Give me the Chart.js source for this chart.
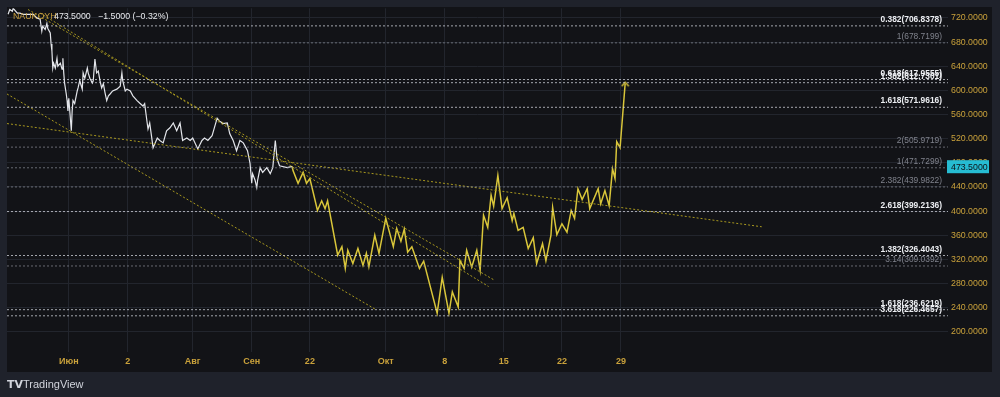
<!DOCTYPE html>
<html><head><meta charset="utf-8">
<script src="https://cdn.jsdelivr.net/npm/chart.js@4"></script>
<style>html,body{margin:0;padding:0;background:#1f222b;overflow:hidden}canvas{display:block}</style>
</head><body>
<canvas id="c" width="1000" height="397"></canvas>
<script>
// ---- data ----
const tickPos = [7.5, 14.5, 22.2, 29.2, 36.1, 45.1, 52.1, 59.1, 66.0, 73.0];
const tickLabels = ['Июн', '2', 'Авг', 'Сен', '22', 'Окт', '8', '15', '22', '29'];
const yTicks = [200, 240, 280, 320, 360, 400, 440, 480, 520, 560, 600, 640, 680, 720];

const whiteX = [0.3,0.5,0.8,0.9,1.4,1.7,2.1,2.5,3.3,3.7,4.1,4.3,4.4,4.7,4.9,5.0,5.3,5.4,5.5,5.6,5.7,5.9,6.1,6.2,6.5,6.7,6.8,6.9,7.0,7.2,7.3,7.4,7.5,7.8,7.9,8.0,8.2,8.5,8.6,8.8,9.1,9.2,9.4,9.7,9.8,10.0,10.3,10.4,10.6,10.8,11.0,11.2,11.4,11.6,11.8,12.0,12.2,12.4,12.7,13.2,13.6,13.8,13.9,14.2,14.4,14.8,15.1,15.6,15.9,16.3,16.5,16.8,16.9,17.1,17.5,18.0,18.3,18.7,19.1,19.5,19.9,20.3,20.7,21.0,21.5,21.9,22.2,22.8,23.3,23.6,24.0,24.5,25.1,25.4,25.8,26.3,26.6,27.0,27.4,27.8,28.2,28.7,29.0,29.2,29.3,29.6,29.8,29.9,30.2,30.5,31.0,31.4,31.7,32.0,32.2,32.5,33.4,34.0];
const whiteY = [726,734,731,736,728,728,726,726,726,720,718,698,706,701,711,703,695,677,665,637,645,637,653,640,645,635,653,629,612,594,583,566,587,533,566,583,578,599,604,616,602,629,620,637,629,620,612,616,652,629,632,616,604,611,596,583,591,594,599,602,607,629,616,599,602,599,591,583,579,574,578,546,536,546,505,521,517,513,533,538,546,533,546,517,521,517,521,503,517,521,517,525,554,549,545,546,528,517,500,517,513,500,479,446,462,451,439,451,472,464,472,462,472,517,487,475,472,474];

const yellowX = [34.0,34.1,34.7,35.3,35.7,36.1,37.0,37.5,37.9,38.2,39.4,39.9,40.3,40.6,41.2,41.8,42.4,42.8,43.1,43.8,44.3,45.1,46.0,46.4,46.9,47.3,47.7,48.2,49.1,49.6,51.2,51.8,52.6,53.0,53.7,53.9,54.4,54.7,55.3,55.9,56.3,56.7,57.2,57.6,57.9,58.4,58.9,59.5,60.1,60.3,60.8,61.4,62.0,62.6,63.0,63.7,64.1,64.7,64.9,65.4,66.0,66.6,67.1,67.5,67.9,68.4,69.0,69.3,70.3,70.6,71.1,71.6,72.0,72.3,72.5,72.9,73.5];
const yellowY = [474,467,446,464,446,454,401,417,404,417,327,341,305,335,313,338,310,330,308,360,330,388,341,371,350,370,332,341,305,317,231,290,231,266,241,318,305,335,307,335,302,393,373,426,408,459,404,422,384,396,368,373,338,356,313,346,318,360,406,361,379,365,401,388,437,419,437,404,437,412,434,409,470,454,515,505,611];

// trend lines: [x1, y1, x2, y2]
const trendA = [2.66, 734, 58.05, 285];
const trendB = [4.1, 728, 57.3, 275];
const trendC = [0.17, 545, 89.7, 374];
const trendD = [0.17, 594, 43.9, 237];

const fibRatios = ['0.382', '1', '0.618', '1.382', '1.618', '2', '1', '2.382', '2.618', '1.382', '3.14', '1.618', '3.618'];
const fibValues = [706.8378, 678.7199, 617.9555, 612.7301, 571.9616, 505.9719, 471.7299, 439.9822, 399.2136, 326.4043, 309.0392, 236.6219, 226.4657];
const fibBright = [true, false, true, true, true, false, false, false, true, true, false, true, true];

const ticker = 'NAUKOYH';
const lastPrice = 473.5;
const change = -1.5;
const changePct = -0.32;

// ---- chart ----
const X_MIN = 0.17, X_MAX = 111.8, Y_MIN = 166.5, Y_MAX = 736;
const YELLOW = '#d9c63a', TREND = '#a8981f';

function arrowImg() {
  const c = document.createElement('canvas'); c.width = 9; c.height = 9;
  const g = c.getContext('2d');
  g.strokeStyle = YELLOW; g.lineWidth = 1.4;
  g.beginPath(); g.moveTo(1, 7); g.lineTo(4.5, 3); g.lineTo(8, 7); g.stroke();
  return c;
}
const arrow = arrowImg();

const pts = (xs, ys) => xs.map((x, i) => ({x, y: ys[i]}));
const seg = t => [{x: t[0], y: t[1]}, {x: t[2], y: t[3]}];

const datasets = [];
fibValues.forEach((v, i) => datasets.push({
  data: [{x: X_MIN, y: v}, {x: X_MAX, y: v}],
  borderColor: fibBright[i] ? 'rgba(215,218,225,0.75)' : 'rgba(140,143,152,0.7)',
  borderWidth: 1, borderDash: [2, 2], pointRadius: 0
}));
[trendA, trendB, trendC, trendD].forEach(t => datasets.push({
  data: seg(t), borderColor: TREND, borderWidth: 1, borderDash: [2, 2], pointRadius: 0
}));
datasets.push({
  data: pts(yellowX, yellowY), borderColor: YELLOW, borderWidth: 1.5,
  pointRadius: yellowX.map((_, i) => i === yellowX.length - 1 ? 4 : 0),
  pointStyle: arrow, tension: 0
});
datasets.push({
  data: pts(whiteX, whiteY), borderColor: '#e3e5ea', borderWidth: 1.2, pointRadius: 0, tension: 0
});

const deco = {
  id: 'deco',
  beforeDraw(ch) {
    const g = ch.ctx;
    g.save();
    g.fillStyle = '#1f222b'; g.fillRect(0, 0, 1000, 397);
    g.fillStyle = '#121317'; g.fillRect(7, 7, 985, 365);
    g.restore();
  },
  afterDatasetsDraw(ch) {
    const g = ch.ctx, ys = ch.scales.y, a = ch.chartArea;
    g.save();
    // fib labels
    g.textAlign = 'right'; g.textBaseline = 'bottom';
    fibValues.forEach((v, i) => {
      const y = ys.getPixelForValue(v);
      g.font = (fibBright[i] ? 'bold ' : '') + '8.4px "Liberation Sans", Arial, sans-serif';
      g.fillStyle = fibBright[i] ? '#eceef2' : '#80838d';
      g.fillText(fibRatios[i] + '(' + v.toFixed(4) + ')', a.right - 6, y - 2);
    });
    // last price box
    const py = ys.getPixelForValue(lastPrice);
    g.fillStyle = '#26bcd2';
    g.fillRect(a.right - 1, py - 6.5, 42, 13);
    g.fillStyle = '#0e1116';
    g.font = '8.8px "Liberation Sans", Arial, sans-serif';
    g.textAlign = 'left'; g.textBaseline = 'middle';
    g.fillText(lastPrice.toFixed(4), a.right + 3, py + 0.5);
    // header
    g.font = '8.8px "Liberation Sans", Arial, sans-serif';
    g.fillStyle = '#c9a040';
    g.fillText(ticker, 13, 17);
    g.fillStyle = '#e8eaee';
    g.fillText(lastPrice.toFixed(4) + '   \u2212' + Math.abs(change).toFixed(4) + ' (\u2212' + Math.abs(changePct).toFixed(2) + '%)', 54, 17);
    // logo
    g.fillStyle = '#d1d4dc';
    g.font = 'bold 11px "DejaVu Sans", sans-serif';
    g.fillText('TV', 7, 385);
    g.font = '11px "Liberation Sans", Arial, sans-serif';
    g.fillText('TradingView', 23, 385);
    g.restore();
  }
};

new Chart(document.getElementById('c'), {
  type: 'line',
  data: {datasets},
  options: {
    responsive: false, animation: false,
    layout: {padding: {left: 7, top: 7, right: 8, bottom: 25}},
    plugins: {legend: {display: false}, tooltip: {enabled: false}},
    scales: {
      x: {
        type: 'linear', min: X_MIN, max: X_MAX,
        afterBuildTicks: ax => { ax.ticks = tickPos.map(v => ({value: v})); },
        afterFit: ax => { ax.height = 20; },
        ticks: {
          autoSkip: false, maxRotation: 0, padding: 4,
          color: '#c9a13b', font: {size: 9, weight: 'bold', family: '"Liberation Sans", Arial, sans-serif'},
          callback: (v, i) => tickLabels[i]
        },
        grid: {color: '#22252d', drawTicks: false},
        border: {display: false}
      },
      y: {
        type: 'linear', position: 'right', min: Y_MIN, max: Y_MAX,
        afterBuildTicks: ax => { ax.ticks = yTicks.map(v => ({value: v})); },
        afterFit: ax => { ax.width = 44; },
        ticks: {
          padding: 3, color: '#c9a13b',
          font: {size: 8.8, family: '"Liberation Sans", Arial, sans-serif'},
          callback: v => Number(v).toFixed(4)
        },
        grid: {color: '#22252d', drawTicks: false},
        border: {display: false}
      }
    }
  },
  plugins: [deco]
});
</script>
</body></html>
